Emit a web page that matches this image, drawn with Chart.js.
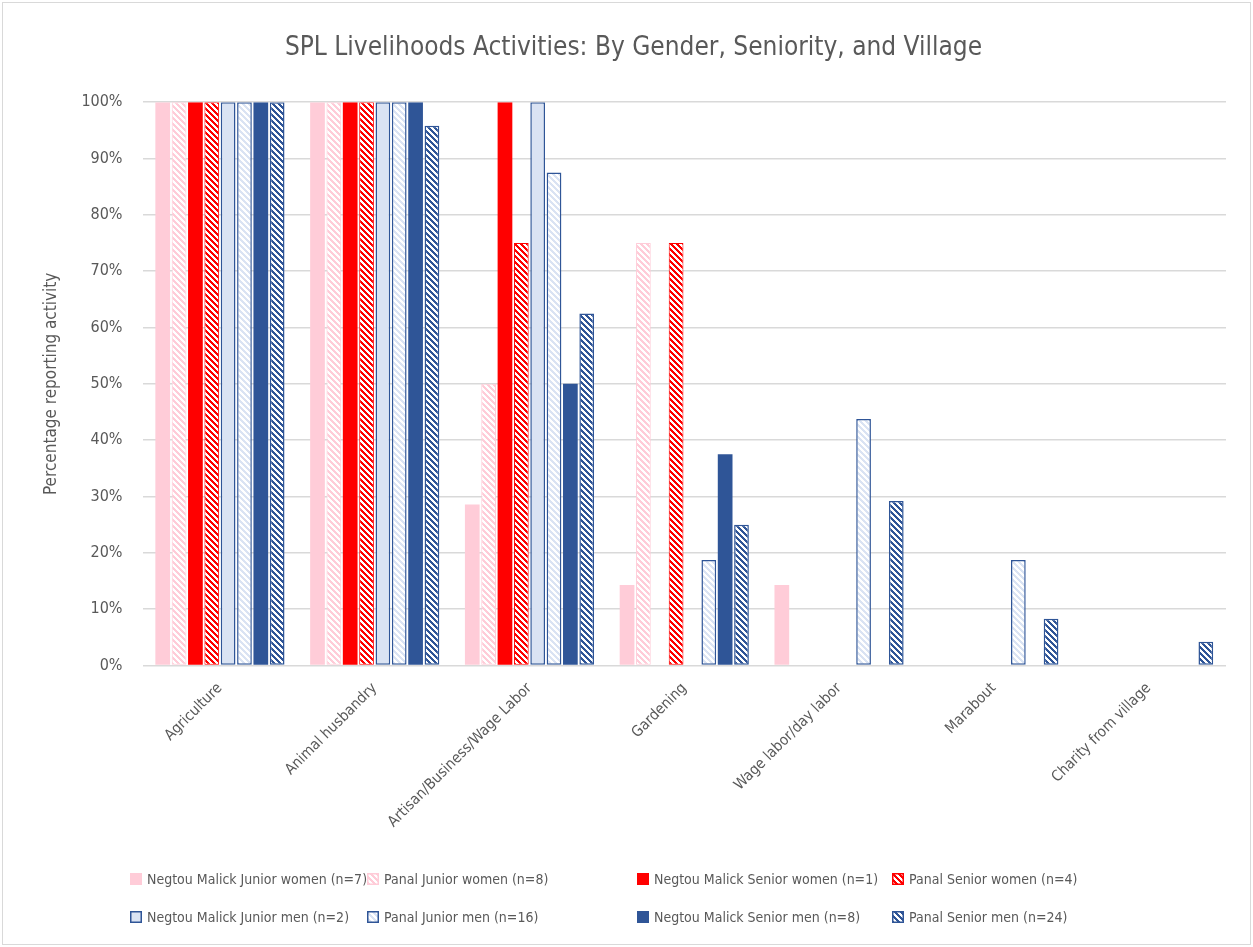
<!DOCTYPE html>
<html>
<head>
<meta charset="utf-8">
<script src="https://cdn.jsdelivr.net/npm/chart.js@4.4.1/dist/chart.umd.min.js"></script>
<style>
  html, body { margin: 0; padding: 0; background: #ffffff; }
  #wrap { width: 1253px; height: 947px; position: relative; }
</style>
</head>
<body>
<div id="wrap"><canvas id="chart" width="1253" height="947"></canvas></div>
<script>
// Categories and series (percent reporting each activity)
const categories = ['Agriculture', 'Animal husbandry', 'Artisan/Business/Wage Labor', 'Gardening',
    'Wage labor/day labor', 'Marabout', 'Charity from village'];

const negtouJuniorWomen = [100, 100, 28.6, 14.3, 14.3, 0, 0];
const panalJuniorWomen = [100, 100, 50, 75, 0, 0, 0];
const negtouSeniorWomen = [100, 100, 100, 0, 0, 0, 0];
const panalSeniorWomen = [100, 100, 75, 75, 0, 0, 0];
const negtouJuniorMen = [100, 100, 100, 0, 0, 0, 0];
const panalJuniorMen = [100, 100, 87.5, 18.75, 43.75, 18.75, 0];
const negtouSeniorMen = [100, 100, 50, 37.5, 0, 0, 0];
const panalSeniorMen = [100, 95.8, 62.5, 25, 29.2, 8.3, 4.2];

const seriesLabels = ['Negtou Malick Junior women (n=7)', 'Panal Junior women (n=8)',
    'Negtou Malick Senior women (n=1)', 'Panal Senior women (n=4)',
    'Negtou Malick Junior men (n=2)', 'Panal Junior men (n=16)',
    'Negtou Malick Senior men (n=8)', 'Panal Senior men (n=24)'];

const yTicks = [0, 10, 20, 30, 40, 50, 60, 70, 80, 90, 100];

// Colors
const pink = '#ffccd8';
const red = '#ff0000';
const lightBlue = '#dae3f3';
const darkBlue = '#2f5597';
const textColor = '#595959';
const gridColor = '#d9d9d9';
const fontFamily = "'Liberation Sans Narrow', 'DejaVu Sans Condensed', 'Roboto', sans-serif";

// Build an Excel-like downward diagonal stripe pattern
function makePattern(fg, bg) {
    const n = 6;
    const c = document.createElement('canvas');
    c.width = n;
    c.height = n;
    const ctx = c.getContext('2d');
    ctx.fillStyle = bg;
    ctx.fillRect(0, 0, n, n);
    ctx.fillStyle = fg;
    for (let y = 0; y < n; y++) {
        for (let x = 0; x < n; x++) {
            const d = ((x - y) % n + n) % n;
            if (d < 3) ctx.fillRect(x, y, 1, 1);
        }
    }
    return ctx.createPattern(c, 'repeat');
}

const seriesData = [negtouJuniorWomen, panalJuniorWomen, negtouSeniorWomen, panalSeniorWomen,
    negtouJuniorMen, panalJuniorMen, negtouSeniorMen, panalSeniorMen];
const fills = [pink, makePattern(pink, '#ffffff'), red, makePattern(red, '#ffffff'),
    lightBlue, makePattern(lightBlue, '#ffffff'), darkBlue, makePattern(darkBlue, '#ffffff')];
const borders = [pink, pink, red, red, darkBlue, darkBlue, darkBlue, darkBlue];
const borderWidths = [0, 1, 0, 1, 1.5, 1.5, 0, 1.5];

const datasets = seriesData.map((data, i) => ({
    label: seriesLabels[i],
    data: data,
    backgroundColor: fills[i],
    borderColor: borders[i],
    borderWidth: borderWidths[i],
    borderSkipped: false,
    barPercentage: 0.9,
    categoryPercentage: 0.845
}));

// Legend laid out as a 4 x 2 grid like the original
const gridLegend = {
    id: 'gridLegend',
    afterDraw(chart) {
        const ctx = chart.ctx;
        const colX = [130, 367, 637, 892];
        const rowY = [879, 917];
        ctx.save();
        ctx.font = '14px ' + fontFamily;
        ctx.textBaseline = 'middle';
        chart.data.datasets.forEach((ds, i) => {
            const x = colX[i % 4];
            const y = rowY[Math.floor(i / 4)];
            ctx.fillStyle = ds.backgroundColor;
            ctx.fillRect(x, y - 6, 12, 12);
            if (ds.borderWidth > 0) {
                ctx.strokeStyle = ds.borderColor;
                ctx.lineWidth = 1.5;
                ctx.strokeRect(x + 0.75, y - 5.25, 10.5, 10.5);
            }
            ctx.fillStyle = textColor;
            ctx.fillText(ds.label, x + 17, y + 1);
        });
        // outer chart frame
        ctx.strokeStyle = gridColor;
        ctx.lineWidth = 1;
        ctx.strokeRect(2.5, 2.5, chart.width - 5, chart.height - 5);
        ctx.restore();
    }
};

new Chart(document.getElementById('chart'), {
    type: 'bar',
    data: { labels: categories, datasets: datasets },
    plugins: [gridLegend],
    options: {
        responsive: false,
        animation: false,
        layout: { padding: { left: 41, right: 27, top: 10, bottom: 110 } },
        plugins: {
            legend: { display: false },
            tooltip: { enabled: false },
            title: {
                display: true,
                text: 'SPL Livelihoods Activities: By Gender, Seniority, and Village',
                color: textColor,
                font: { family: fontFamily, size: 26, weight: 'normal' },
                padding: { top: 23, bottom: 38 }
            }
        },
        scales: {
            x: {
                grid: { display: false },
                border: { display: false },
                ticks: {
                    color: textColor,
                    font: { family: fontFamily, size: 15 },
                    maxRotation: 45,
                    minRotation: 45,
                    autoSkip: false,
                    padding: 6
                }
            },
            y: {
                min: 0,
                max: 100,
                afterBuildTicks(axis) {
                    axis.ticks = yTicks.map(v => ({ value: v }));
                },
                grid: { color: gridColor, lineWidth: 1.5, drawTicks: false },
                border: { display: false },
                ticks: {
                    color: textColor,
                    font: { family: fontFamily, size: 16 },
                    padding: 20,
                    callback: v => v + '%'
                },
                title: {
                    display: true,
                    text: 'Percentage reporting activity',
                    color: textColor,
                    font: { family: fontFamily, size: 17 },
                    padding: { top: 0, bottom: 0 }
                }
            }
        }
    }
});
</script>
</body>
</html>
